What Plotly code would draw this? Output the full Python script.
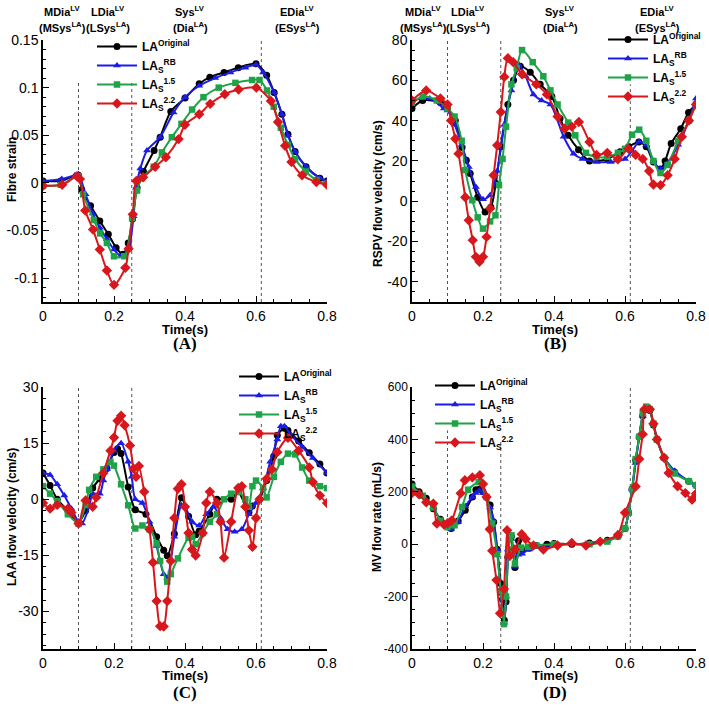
import plotly.graph_objects as go

# ---------------- data ----------------
series_names = ["LA<sup>Original</sup>", "LA<sub>S</sub><sup>RB</sup>",
                "LA<sub>S</sub><sup>1.5</sup>", "LA<sub>S</sub><sup>2.2</sup>"]

# Panel A : fibre strain
A_t_orig = [0, 0.05, 0.1, 0.109, 0.134, 0.16, 0.184, 0.206, 0.225, 0.24, 0.252, 0.265, 0.283, 0.313, 0.33, 0.36, 0.4, 0.44, 0.47, 0.51, 0.55, 0.6, 0.63, 0.651, 0.673, 0.69, 0.71, 0.741, 0.78, 0.8]
A_orig = [0.002, 0.002, 0.008, -0.007, -0.024, -0.040, -0.054, -0.068, -0.075, -0.063, -0.038, -0.005, 0.012, 0.034, 0.048, 0.075, 0.089, 0.104, 0.111, 0.116, 0.121, 0.125, 0.113, 0.095, 0.072, 0.051, 0.033, 0.017, 0.005, 0.002]
A_t_rb = [0, 0.053, 0.09, 0.1, 0.12, 0.14, 0.16, 0.18, 0.2, 0.22, 0.24, 0.255, 0.262, 0.274, 0.293, 0.33, 0.368, 0.4, 0.44, 0.485, 0.528, 0.57, 0.6, 0.62, 0.651, 0.673, 0.69, 0.71, 0.741, 0.78, 0.8]
A_rb = [0.002, 0.004, 0.008, 0.009, -0.012, -0.032, -0.047, -0.059, -0.070, -0.077, -0.070, -0.035, -0.005, 0.015, 0.034, 0.048, 0.074, 0.090, 0.102, 0.110, 0.116, 0.121, 0.124, 0.116, 0.095, 0.072, 0.050, 0.033, 0.017, 0.005, 0.002]
A_t_15 = [0, 0.05, 0.1, 0.113, 0.143, 0.161, 0.18, 0.2, 0.229, 0.251, 0.265, 0.279, 0.312, 0.335, 0.363, 0.39, 0.42, 0.452, 0.495, 0.542, 0.589, 0.61, 0.631, 0.65, 0.67, 0.69, 0.71, 0.74, 0.77, 0.8]
A_15 = [-0.003, -0.002, 0.007, -0.012, -0.039, -0.053, -0.063, -0.077, -0.077, -0.037, -0.008, 0.005, 0.017, 0.032, 0.048, 0.062, 0.077, 0.090, 0.100, 0.105, 0.108, 0.108, 0.097, 0.080, 0.058, 0.040, 0.025, 0.012, 0.003, -0.001]
A_t_22 = [0, 0.054, 0.096, 0.104, 0.119, 0.141, 0.16, 0.18, 0.2, 0.232, 0.241, 0.253, 0.263, 0.282, 0.316, 0.346, 0.382, 0.40, 0.44, 0.471, 0.512, 0.551, 0.601, 0.642, 0.662, 0.682, 0.70, 0.73, 0.77, 0.8]
A_22 = [-0.003, -0.002, 0.007, 0.004, -0.029, -0.049, -0.070, -0.092, -0.107, -0.089, -0.069, -0.033, 0.002, 0.006, 0.017, 0.027, 0.046, 0.061, 0.072, 0.083, 0.093, 0.098, 0.100, 0.086, 0.064, 0.039, 0.022, 0.008, 0.001, -0.002]

# Panel B : RSPV flow velocity
B_t_orig = [0, 0.03, 0.08, 0.1, 0.122, 0.141, 0.153, 0.164, 0.185, 0.206, 0.222, 0.236, 0.25, 0.27, 0.286, 0.305, 0.333, 0.361, 0.394, 0.417, 0.44, 0.469, 0.5, 0.55, 0.586, 0.61, 0.639, 0.66, 0.68, 0.7, 0.713, 0.73, 0.757, 0.779, 0.8]
B_orig = [46, 50, 49, 46, 40, 26.6, 20.3, 13.7, 2, -5.3, -3, 8.8, 27, 48, 60, 67, 64, 58, 52, 41, 32.7, 25.6, 20, 21, 24.5, 27, 29.4, 27, 19.5, 16, 20, 28.6, 36, 44, 48]
B_t_rb = [0, 0.05, 0.09, 0.1, 0.12, 0.14, 0.16, 0.18, 0.2, 0.22, 0.24, 0.26, 0.28, 0.3, 0.32, 0.342, 0.365, 0.39, 0.427, 0.455, 0.48, 0.52, 0.56, 0.6, 0.62, 0.64, 0.66, 0.68, 0.7, 0.72, 0.75, 0.78, 0.8]
B_rb = [50, 51, 46, 45, 38, 28, 17, 7, 1, 3, 15, 38, 55, 68, 62, 53, 50, 48, 32, 23.6, 21, 19.5, 19.5, 21, 25, 29.5, 28, 20, 16, 19, 28, 40, 51]
B_t_15 = [0, 0.03, 0.07, 0.1, 0.12, 0.14, 0.15, 0.17, 0.185, 0.2, 0.22, 0.235, 0.245, 0.255, 0.265, 0.28, 0.295, 0.31, 0.34, 0.37, 0.39, 0.41, 0.44, 0.46, 0.49, 0.52, 0.55, 0.58, 0.6, 0.62, 0.64, 0.66, 0.68, 0.7, 0.72, 0.75, 0.78, 0.8]
B_15 = [49, 52, 50, 46, 42, 30, 15.4, 0.5, -8, -13.6, -10, -7, 8, 21, 37, 58, 66, 75, 69, 62, 55, 48, 39, 32.7, 24, 22, 22, 24, 26, 33, 35.5, 30, 20, 14, 18, 30, 40, 48]
B_t_22 = [0, 0.04, 0.08, 0.1, 0.11, 0.122, 0.131, 0.15, 0.16, 0.171, 0.18, 0.19, 0.2, 0.21, 0.22, 0.23, 0.24, 0.25, 0.26, 0.27, 0.285, 0.31, 0.35, 0.38, 0.41, 0.43, 0.45, 0.47, 0.5, 0.52, 0.55, 0.58, 0.61, 0.63, 0.65, 0.668, 0.68, 0.7, 0.72, 0.74, 0.76, 0.78, 0.8]
B_22 = [50, 55, 51, 48, 40, 31, 23.6, 2, -9.4, -19.3, -27.6, -30, -27.6, -17.7, -3.6, 12.9, 27.8, 44.3, 61.7, 71, 69, 63, 58, 53, 42, 36, 37, 39.3, 29.4, 23, 24, 20.8, 26, 23, 21, 15, 8.3, 8, 12.9, 21, 32, 40, 48]

# Panel C : LAA flow velocity
C_t_orig = [0, 0.02, 0.04, 0.07, 0.1, 0.12, 0.14, 0.16, 0.18, 0.2, 0.21, 0.22, 0.24, 0.26, 0.29, 0.32, 0.34, 0.35, 0.37, 0.39, 0.41, 0.43, 0.44, 0.47, 0.49, 0.53, 0.55, 0.58, 0.59, 0.61, 0.63, 0.65, 0.66, 0.68, 0.69, 0.72, 0.75, 0.78, 0.8]
C_orig = [7, 3.7, 0, -3, -6.2, -3, 3, 5.5, 8.2, 12.5, 13.5, 12.2, 3.3, -2.8, -4, -10, -13.6, -15.1, -9.2, 0.4, -4.5, -9.5, -8.5, -4, 0, 0, 2, -3.5, -1.8, 0, 5, 11.5, 17.1, 19, 18.4, 15.6, 12.4, 9.4, 7]
C_t_rb = [0, 0.02, 0.04, 0.06, 0.08, 0.1, 0.11, 0.13, 0.14, 0.16, 0.17, 0.18, 0.2, 0.22, 0.24, 0.25, 0.26, 0.28, 0.3, 0.32, 0.34, 0.35, 0.37, 0.39, 0.4, 0.42, 0.44, 0.46, 0.48, 0.5, 0.52, 0.54, 0.56, 0.58, 0.6, 0.62, 0.64, 0.66, 0.67, 0.68, 0.7, 0.73, 0.76, 0.8]
C_rb = [7, 6.5, 4, 1, -2.5, -6, -6.5, -2, 1.5, 1.5, 5, 8, 13, 15, 10, 6, 0, -1, -6, -12.5, -20, -21, -10, -1.6, -2, -6, -7, -4, -2, -5, -8, -8.7, -8, -4, -1, 3, 10, 16, 19.5, 19.5, 17, 14, 11, 7]
C_t_15 = [0, 0.02, 0.04, 0.07, 0.1, 0.12, 0.13, 0.15, 0.17, 0.19, 0.2, 0.22, 0.24, 0.26, 0.28, 0.3, 0.32, 0.33, 0.35, 0.36, 0.38, 0.41, 0.42, 0.43, 0.45, 0.47, 0.49, 0.51, 0.53, 0.55, 0.57, 0.58, 0.59, 0.6, 0.62, 0.63, 0.65, 0.67, 0.69, 0.71, 0.73, 0.75, 0.78, 0.8]
C_15 = [3.5, 1.5, -0.5, -4, -6.5, -1.5, 2.5, 6, 8, 10, 9, 4, -1.6, -7.8, -7, -8, -11.8, -16.5, -22, -20, -15.8, -10.3, -10, -12, -9, -6, -4, 0, 1.5, 2, 0, -2, 3.5, 5, 3, 0.5, 6, 10, 12.2, 12, 8.5, 5, 3.5, 3]
C_t_22 = [0, 0.02, 0.04, 0.07, 0.08, 0.1, 0.12, 0.14, 0.15, 0.17, 0.19, 0.2, 0.21, 0.22, 0.23, 0.245, 0.255, 0.262, 0.27, 0.285, 0.3, 0.31, 0.32, 0.33, 0.34, 0.35, 0.36, 0.37, 0.38, 0.39, 0.4, 0.41, 0.42, 0.43, 0.45, 0.46, 0.47, 0.49, 0.5, 0.51, 0.53, 0.55, 0.56, 0.57, 0.58, 0.59, 0.6, 0.61, 0.63, 0.645, 0.66, 0.69, 0.72, 0.75, 0.76, 0.78, 0.8]
C_22 = [-1, -2.5, -1.5, -2.5, -3.5, -6.5, -0.3, -2, 0.5, 7, 13, 16.5, 21, 22.3, 19.8, 14.4, 8.2, 6, 8.9, 2, -8, -16.9, -27.2, -33.9, -34, -27.2, -16.5, -5, 2.8, 4, -2, -9, -13.4, -15, -9, -1, 2, -1, -6, -15.6, -6, 3, 3.5, -2, -8.3, -12.7, -5, 0, 5.5, 8, 12.6, 16.4, 13, 8.5, 4.6, 1, -1]

# Panel D : MV flow rate
D_t_orig = [0, 0.02, 0.04, 0.06, 0.08, 0.1, 0.11, 0.13, 0.15, 0.17, 0.18, 0.19, 0.2, 0.22, 0.23, 0.24, 0.25, 0.255, 0.26, 0.265, 0.27, 0.275, 0.28, 0.29, 0.3, 0.31, 0.33, 0.35, 0.38, 0.4, 0.45, 0.5, 0.55, 0.58, 0.6, 0.61, 0.62, 0.63, 0.64, 0.65, 0.66, 0.67, 0.68, 0.69, 0.71, 0.74, 0.78, 0.8]
D_orig = [230, 200, 175, 135, 95, 70, 60, 89, 130, 180, 208, 210, 200, 150, 85, -19, -150, -210, -290, -220, -50, 20, 30, -89, 13, -20, -15, -5, 0, 3, 0, 5, 15, 30, 60, 120, 210, 320, 410, 490, 515, 510, 455, 400, 330, 275, 240, 225]
D_t_rb = [0, 0.03, 0.06, 0.08, 0.1, 0.11, 0.13, 0.15, 0.17, 0.18, 0.19, 0.2, 0.22, 0.23, 0.24, 0.25, 0.255, 0.26, 0.265, 0.27, 0.275, 0.28, 0.29, 0.3, 0.31, 0.33, 0.36, 0.4, 0.5, 0.55, 0.58, 0.6, 0.61, 0.62, 0.63, 0.64, 0.65, 0.66, 0.67, 0.68, 0.69, 0.71, 0.74, 0.78, 0.8]
D_rb = [210, 185, 140, 90, 65, 58, 85, 145, 180, 195, 205, 195, 140, 90, -20, -190, -250, -300, -200, -20, 30, 20, -86, -40, -36, -20, -10, -2, 2, 12, 30, 60, 120, 210, 310, 410, 490, 510, 515, 460, 405, 330, 280, 240, 225]
D_t_15 = [0, 0.03, 0.06, 0.08, 0.1, 0.12, 0.141, 0.158, 0.188, 0.21, 0.226, 0.24, 0.25, 0.259, 0.265, 0.272, 0.28, 0.29, 0.307, 0.327, 0.35, 0.4, 0.5, 0.55, 0.58, 0.6, 0.61, 0.62, 0.63, 0.64, 0.65, 0.66, 0.67, 0.68, 0.69, 0.71, 0.74, 0.78, 0.8]
D_15 = [220, 185, 140, 90, 65, 72, 142, 208, 237, 180, 79, -38, -179, -305, -200, -20, 34, -74, -13, -10, -5, 0, 0, 10, 30, 60, 120, 210, 325, 410, 500, 525, 515, 460, 400, 330, 270, 240, 225]
D_t_22 = [0, 0.02, 0.04, 0.06, 0.07, 0.09, 0.1, 0.112, 0.137, 0.149, 0.17, 0.191, 0.2, 0.21, 0.219, 0.226, 0.238, 0.248, 0.259, 0.268, 0.276, 0.29, 0.309, 0.32, 0.342, 0.37, 0.41, 0.45, 0.49, 0.53, 0.58, 0.6, 0.63, 0.64, 0.65, 0.655, 0.67, 0.68, 0.69, 0.71, 0.723, 0.748, 0.77, 0.789, 0.8]
D_22 = [195, 190, 160, 155, 79, 75, 80, 91, 194, 244, 255, 263, 230, 180, 57, -25, -137, -264, -171, 53, -44, -20, 38, 20, -5, -20, -5, 5, -5, 10, 35, 120, 220, 325, 420, 515, 515, 460, 400, 330, 272, 221, 195, 170, 193]

# tick labels
A_ytick_vals = [-0.1, -0.05, 0, 0.05, 0.1, 0.15]
A_ytick_text = ["-0.1", "-0.05", "0", "0.05", "0.1", "0.15"]
B_ytick_vals = [-40, -20, 0, 20, 40, 60, 80]
B_ytick_text = ["-40", "-20", "0", "20", "40", "60", "80"]
C_ytick_vals = [-30, -15, 0, 15, 30]
C_ytick_text = ["-30", "-15", "0", "15", "30"]
D_ytick_vals = [-400, -200, 0, 200, 400, 600]
D_ytick_text = ["-400", "-200", "0", "200", "400", "600"]
x_tick_vals = [0, 0.2, 0.4, 0.6, 0.8]
x_tick_text = ["0", "0.2", "0.4", "0.6", "0.8"]

phase_times = [0.1, 0.25, 0.615]

# ---------------- styling ----------------
colors = ["#000000", "#1c1ce8", "#1fa348", "#d8171c"]
symbols = ["circle", "triangle-up", "square", "diamond"]
msizes = [7, 7, 6.5, 8]

W, H = 709, 706
def px2x(p):
    return p / W
def px2y(p):
    return 1 - p / H

dom_x_left = [px2x(43), px2x(327)]
dom_x_right = [px2x(412), px2x(696)]
dom_y_top = [px2y(302), px2y(40)]
dom_y_bot = [px2y(649), px2y(387)]

panels = [
    dict(ax="", data=[(A_t_orig, A_orig), (A_t_rb, A_rb), (A_t_15, A_15), (A_t_22, A_22)],
         legend="legend", smooth=0.8),
    dict(ax="2", data=[(B_t_orig, B_orig), (B_t_rb, B_rb), (B_t_15, B_15), (B_t_22, B_22)],
         legend="legend2", smooth=0.8),
    dict(ax="3", data=[(C_t_orig, C_orig), (C_t_rb, C_rb), (C_t_15, C_15), (C_t_22, C_22)],
         legend="legend3", smooth=0.7),
    dict(ax="4", data=[(D_t_orig, D_orig), (D_t_rb, D_rb), (D_t_15, D_15), (D_t_22, D_22)],
         legend="legend4", smooth=0.5),
]

fig = go.Figure()
for p in panels:
    for i, (t, v) in enumerate(p["data"]):
        fig.add_trace(go.Scatter(
            x=t, y=v, mode="lines+markers",
            name="<b>" + series_names[i] + "</b>",
            line=dict(color=colors[i], width=2, shape="spline", smoothing=p["smooth"]),
            marker=dict(symbol=symbols[i], size=msizes[i], color=colors[i]),
            xaxis="x" + p["ax"], yaxis="y" + p["ax"], legend=p["legend"],
        ))

def xax(domain, anchor):
    return dict(domain=domain, anchor=anchor, range=[0, 0.8], tickvals=x_tick_vals, ticktext=x_tick_text,
                showline=True, linecolor="black", linewidth=1.5, ticks="inside", ticklen=6,
                tickwidth=1.2, tickcolor="black", showgrid=False, zeroline=False, automargin=False,
                tickfont=dict(family="Arial", size=14, color="black"),
                minor=dict(ticks="inside", ticklen=3, dtick=0.05, tick0=0, tickcolor="black", showgrid=False))

def yax(domain, anchor, rng, vals, text, mdt, fs=14):
    return dict(domain=domain, anchor=anchor, range=rng, tickvals=vals, ticktext=text,
                showline=True, linecolor="black", linewidth=1.5, ticks="inside", ticklen=6,
                tickwidth=1.2, tickcolor="black", showgrid=False, zeroline=False, automargin=False,
                tickfont=dict(family="Arial", size=fs, color="black"),
                minor=dict(ticks="inside", ticklen=3, dtick=mdt, tick0=0, tickcolor="black", showgrid=False))

legfont = dict(family="Arial", size=12, color="black")
def leg(x, y):
    return dict(x=px2x(x), y=px2y(y), xanchor="left", yanchor="top", bgcolor="rgba(0,0,0,0)",
                font=legfont, tracegroupgap=0, itemwidth=40, borderwidth=0)

fig.update_layout(
    width=W, height=H, margin=dict(l=0, r=0, t=0, b=0, autoexpand=False),
    paper_bgcolor="white", plot_bgcolor="white",
    xaxis=xax(dom_x_left, "y"), yaxis=yax(dom_y_top, "x", [-0.125, 0.15], A_ytick_vals, A_ytick_text, 0.01),
    xaxis2=xax(dom_x_right, "y2"), yaxis2=yax(dom_y_top, "x2", [-50, 80], B_ytick_vals, B_ytick_text, 5),
    xaxis3=xax(dom_x_left, "y3"), yaxis3=yax(dom_y_bot, "x3", [-40, 30], C_ytick_vals, C_ytick_text, 3),
    xaxis4=xax(dom_x_right, "y4"), yaxis4=yax(dom_y_bot, "x4", [-400, 600], D_ytick_vals, D_ytick_text, 50, fs=12),
    legend=leg(92, 32), legend2=leg(603, 25), legend3=leg(234, 362), legend4=leg(430, 371),
    showlegend=True,
)

# phase boundary dotted lines (upper end per panel)
line_tops = {"": [0.105, 0.105, 0.15], "2": [80, 80, 58], "3": [30, 30, 20.6], "4": [434, 396, 600]}
bottoms = {"": -0.125, "2": -50, "3": -40, "4": -400}
for ax, tops in line_tops.items():
    for xt, top in zip(phase_times, tops):
        fig.add_shape(type="line", x0=xt, x1=xt, y0=bottoms[ax], y1=top,
                      xref="x" + ax, yref="y" + ax,
                      line=dict(color="#555555", width=1, dash="dot"), layer="below")

# phase labels
phase_line1 = ["MDia<sup>LV</sup>", "LDia<sup>LV</sup>", "Sys<sup>LV</sup>", "EDia<sup>LV</sup>"]
phase_line2 = ["(MSys<sup>LA</sup>)", "(LSys<sup>LA</sup>)", "(Dia<sup>LA</sup>)", "(ESys<sup>LA</sup>)"]
phase_x_left = [62, 108, 190, 297]
phase_x_right = [423, 468, 560, 657]
for xs in (phase_x_left, phase_x_right):
    for xp, l1, l2 in zip(xs, phase_line1, phase_line2):
        for txt, yp in ((l1, 11), (l2, 27)):
            fig.add_annotation(x=px2x(xp), y=px2y(yp), xref="paper", yref="paper", text="<b>" + txt + "</b>",
                               showarrow=False, font=dict(family="Arial", size=11, color="black"),
                               xanchor="center", yanchor="middle")

# axis titles
ytitles = [("Fibre strain", 12, 170), ("RSPV flow velocity (cm/s)", 378, 193),
           ("LAA flow velocity (cm/s)", 12, 517), ("MV flow rate (mL/s)", 377, 517)]
for txt, xp, yp in ytitles:
    fig.add_annotation(x=px2x(xp), y=px2y(yp), xref="paper", yref="paper", text="<b>" + txt + "</b>",
                       textangle=-90, showarrow=False, font=dict(family="Arial", size=12, color="black"),
                       xanchor="center", yanchor="middle")
for xp, yp in [(185, 329), (555, 329), (185, 675), (555, 675)]:
    fig.add_annotation(x=px2x(xp), y=px2y(yp), xref="paper", yref="paper", text="<b>Time(s)</b>",
                       showarrow=False, font=dict(family="Arial", size=13, color="black"),
                       xanchor="center", yanchor="middle")
for lab, xp, yp in [("(A)", 185, 344), ("(B)", 555, 344), ("(C)", 185, 692), ("(D)", 555, 692)]:
    fig.add_annotation(x=px2x(xp), y=px2y(yp), xref="paper", yref="paper", text="<b>" + lab + "</b>",
                       showarrow=False, font=dict(family="Liberation Serif", size=17, color="black"),
                       xanchor="center", yanchor="middle")

fig.write_html("out.html", config={"displayModeBar": False},
               post_script="document.body.style.margin='0px';document.body.style.overflow='hidden';")
